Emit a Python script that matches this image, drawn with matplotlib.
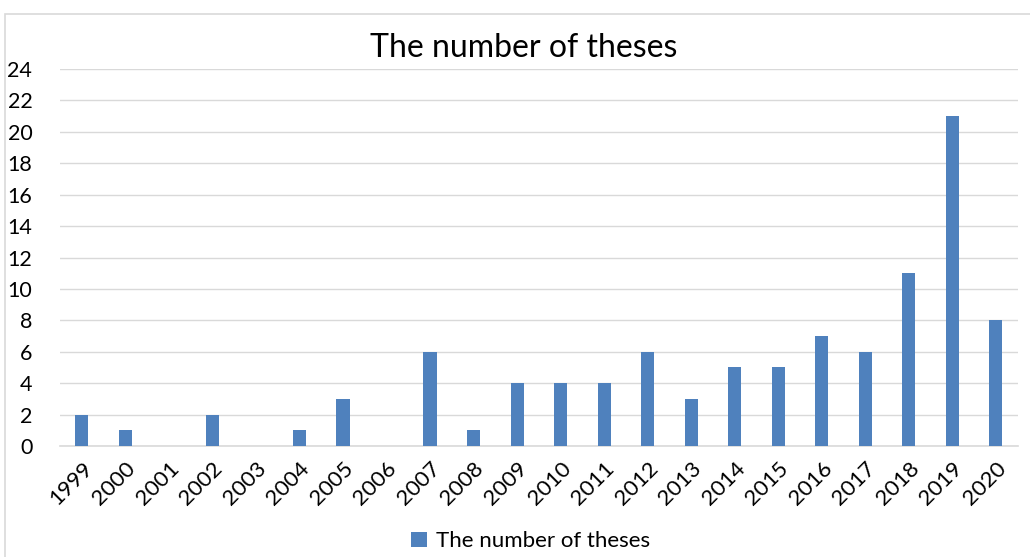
import matplotlib.pyplot as plt
from matplotlib.patches import Rectangle

plt.rcParams['font.family'] = ['Lato', 'DejaVu Sans']

years = [str(y) for y in range(1999, 2021)]
theses = [2, 1, 0, 2, 0, 1, 3, 0, 6, 1, 4, 4, 4, 6, 3, 5, 5, 7, 6, 11, 21, 8]
yticks = list(range(0, 25, 2))

bar_color = '#4F81BD'
grid_color = '#D9D9D9'

fig = plt.figure(figsize=(10.3, 5.57), dpi=100)
# chart border
fig.patches.append(Rectangle((0.005, -0.01), 1.0, 0.985, transform=fig.transFigure,
                             fill=False, edgecolor=grid_color, linewidth=1.2))

ax = fig.add_axes([0.0583, 0.1993, 0.9297, 0.6767])
x = range(len(years))
ax.bar(x, theses, width=0.3, color=bar_color, label='The number of theses', zorder=3)

ax.set_xlim(-0.5, len(years) - 0.5)
ax.set_ylim(0, 24)
ax.set_yticks(yticks)
ax.set_xticks(list(x))
ax.set_xticklabels(years, rotation=45, ha='right', rotation_mode='anchor', fontsize=16)
ax.tick_params(axis='y', labelsize=15.5, length=0, pad=20)
ax.tick_params(axis='x', length=0, pad=9)
ax.grid(axis='y', color=grid_color, linewidth=1, zorder=0)
for s in ['top', 'right', 'left']:
    ax.spines[s].set_visible(False)
ax.spines['bottom'].set_color(grid_color)
ax.spines['bottom'].set_linewidth(1.2)

fig.text(0.508, 0.913, 'The number of theses', ha='center', va='center', fontsize=23)
fig.legend(loc='center', bbox_to_anchor=(0.515, 0.028), frameon=False, fontsize=16,
           handlelength=0.7, handleheight=0.7, handletextpad=0.4)

fig.savefig('out.png', dpi=100)
